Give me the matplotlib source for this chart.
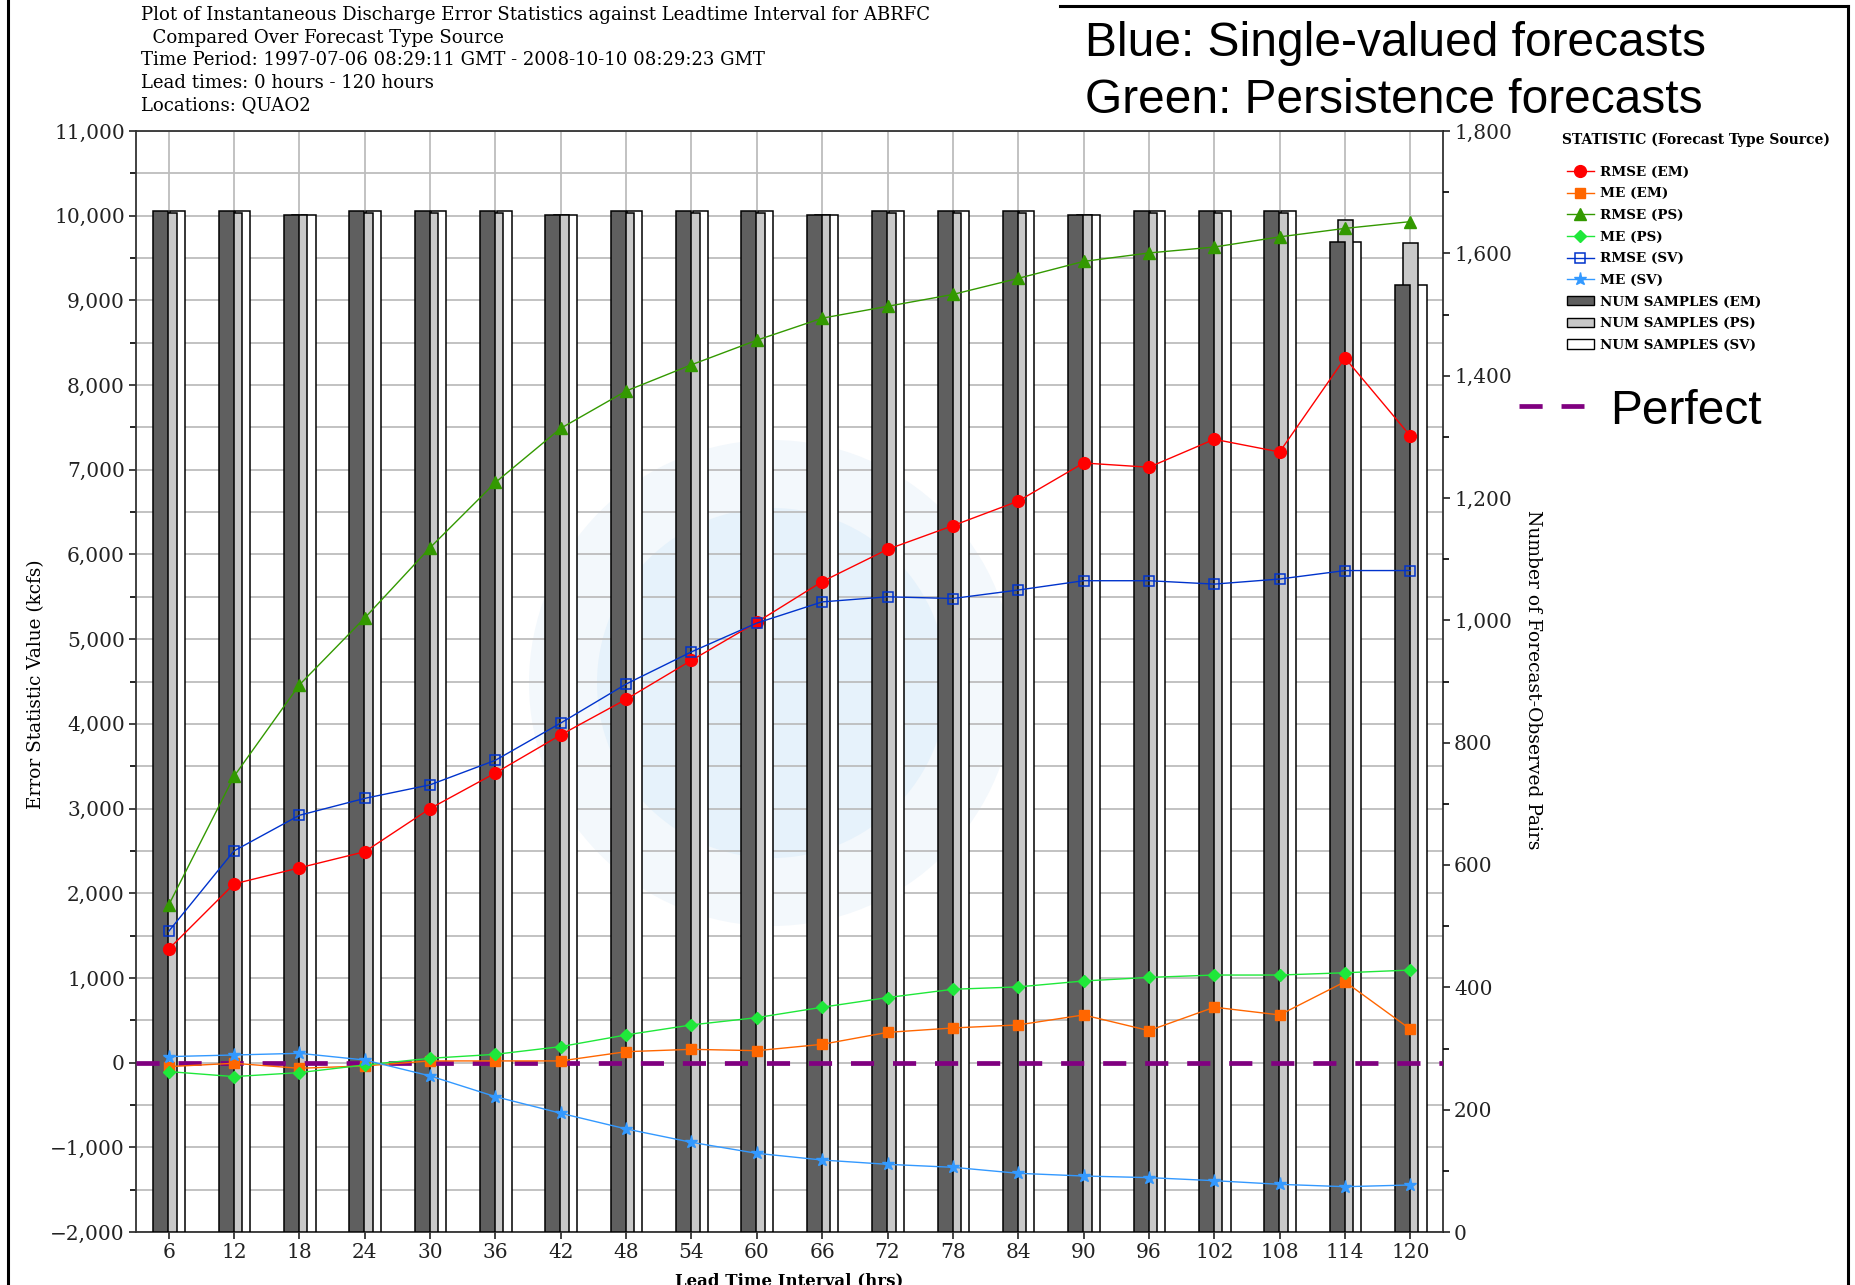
import matplotlib
matplotlib.use('Agg')
import matplotlib.pyplot as plt
from matplotlib.lines import Line2D
from matplotlib.patches import Patch, Circle
from matplotlib.ticker import MultipleLocator, FuncFormatter

# lead times (hrs)
lead_hours = [6, 12, 18, 24, 30, 36, 42, 48, 54, 60, 66, 72, 78, 84, 90, 96, 102, 108, 114, 120]

# error statistics (kcfs), left axis
rmse_em = [1340, 2110, 2300, 2490, 3000, 3420, 3870, 4290, 4750, 5200,
           5680, 6060, 6340, 6630, 7080, 7030, 7360, 7210, 8320, 7400]
me_em = [-47, -8, -67, -39, 20, 20, 20, 129, 157, 141,
         216, 357, 409, 445, 563, 378, 654, 563, 955, 395]
rmse_ps = [1860, 3380, 4460, 5250, 6080, 6850, 7490, 7930, 8240, 8530,
           8790, 8930, 9070, 9260, 9460, 9560, 9630, 9750, 9850, 9930]
me_ps = [-106, -165, -118, -28, 51, 98, 189, 327, 445, 531,
         654, 768, 866, 894, 964, 1006, 1034, 1034, 1061, 1093]
rmse_sv = [1550, 2500, 2920, 3120, 3280, 3570, 4010, 4470, 4850, 5190,
           5440, 5500, 5480, 5580, 5690, 5690, 5650, 5710, 5810, 5810]
me_sv = [71, 90, 110, 31, -157, -402, -598, -783, -941, -1071,
         -1150, -1201, -1236, -1307, -1339, -1358, -1394, -1437, -1465, -1445]

# number of forecast-observed pairs, right axis
n_em = [1669, 1669, 1663, 1669, 1669, 1669, 1663, 1669, 1669, 1669,
        1663, 1669, 1669, 1669, 1663, 1669, 1669, 1669, 1619, 1548]
n_ps = [1666, 1666, 1663, 1666, 1666, 1666, 1663, 1666, 1666, 1666,
        1663, 1666, 1666, 1666, 1663, 1666, 1666, 1666, 1654, 1617]
n_sv = [1669, 1669, 1663, 1669, 1669, 1669, 1663, 1669, 1669, 1669,
        1663, 1669, 1669, 1669, 1663, 1669, 1669, 1669, 1619, 1548]

title_lines = [
    "Plot of Instantaneous Discharge Error Statistics against Leadtime Interval for ABRFC",
    "  Compared Over Forecast Type Source",
    "Time Period: 1997-07-06 08:29:11 GMT - 2008-10-10 08:29:23 GMT",
    "Lead times: 0 hours - 120 hours",
    "Locations: QUAO2",
]

plt.rcParams['font.family'] = ['DejaVu Serif']

W, H = 1856, 1285
fig = plt.figure(figsize=(W / 100, H / 100), dpi=100)


def fx(px):
    return px / W


def fy(py):
    return 1 - py / H


ax = fig.add_axes([fx(136), fy(1232), (1443 - 136) / W, (1232 - 131) / H])
ax2 = ax.twinx()
ax3 = ax.twinx()
ax.set_zorder(0)
ax2.set_zorder(1)
ax3.set_zorder(2)

# faint logo watermark behind everything
ax.add_patch(Circle((7.72, 6.02), 2.43, transform=fig.dpi_scale_trans,
                    facecolor='#f3f8fc', edgecolor='none', zorder=-2))
ax.add_patch(Circle((7.72, 6.02), 1.75, transform=fig.dpi_scale_trans,
                    facecolor='#e6f2fb', edgecolor='none', zorder=-1))

ax.set_xlim(3, 123)
ax.set_ylim(-2000, 11000)
ax.set_xticks(lead_hours)
ax.yaxis.set_major_locator(MultipleLocator(1000))
ax.yaxis.set_minor_locator(MultipleLocator(500))
ax.yaxis.set_major_formatter(FuncFormatter(lambda v, p: f"{int(v):,}".replace('-', '\u2212')))
ax.grid(True, which='both', color='#bdbdbd', lw=1.3)
ax.set_axisbelow(True)
ax.tick_params(labelsize=14.5, length=5, width=1.2, pad=3, colors='#222222')
ax.tick_params(which='minor', length=4, width=1.2)
for s in ax.spines.values():
    s.set_color('#333333')
    s.set_linewidth(1.3)

# sample-count bars
bw = 1.38
ax2.bar([x + 0.8 for x in lead_hours], n_sv, width=bw, color='white',
        edgecolor='black', lw=1.1, zorder=1)
ax2.bar([x + 0.05 for x in lead_hours], n_ps, width=bw, color='#c8c8c8',
        edgecolor='black', lw=1.1, zorder=2)
ax2.bar([x - 0.72 for x in lead_hours], n_em, width=bw, color='#5f5f5f',
        edgecolor='black', lw=1.1, zorder=3)
ax2.set_ylim(0, 1800)
ax2.yaxis.set_major_locator(MultipleLocator(200))
ax2.yaxis.set_minor_locator(MultipleLocator(100))
ax2.yaxis.set_major_formatter(FuncFormatter(lambda v, p: f"{int(v):,}"))
ax2.tick_params(labelsize=14.5, length=5, width=1.2, pad=3, colors='#222222')
ax2.tick_params(which='minor', length=4, width=1.2)
for s in ax2.spines.values():
    s.set_visible(False)

# error statistic lines
ax3.set_ylim(-2000, 11000)
ax3.yaxis.set_visible(False)
for s in ax3.spines.values():
    s.set_visible(False)
ax3.axhline(0, color='#800080', lw=3.4, ls=(0, (4.9, 4.0)), zorder=2)

h_rmse_em, = ax3.plot(lead_hours, rmse_em, color='#ff0000', lw=1.0, marker='o', ms=8.5, zorder=5)
h_me_em, = ax3.plot(lead_hours, me_em, color='#ff6600', lw=1.0, marker='s', ms=7, zorder=5)
h_rmse_ps, = ax3.plot(lead_hours, rmse_ps, color='#339900', lw=1.0, marker='^', ms=8.5, zorder=5)
h_me_ps, = ax3.plot(lead_hours, me_ps, color='#1fe83a', lw=1.0, marker='D', ms=6, zorder=5)
h_rmse_sv, = ax3.plot(lead_hours, rmse_sv, color='#0033cc', lw=1.0, marker='s', ms=7,
                      mfc='none', mew=1.1, zorder=5)
h_me_sv, = ax3.plot(lead_hours, me_sv, color='#3399ff', lw=1.0, marker='*', ms=9.5, zorder=5)

handles = [h_rmse_em, h_me_em, h_rmse_ps, h_me_ps, h_rmse_sv, h_me_sv,
           Patch(facecolor='#5f5f5f', edgecolor='black'),
           Patch(facecolor='#c8c8c8', edgecolor='black'),
           Patch(facecolor='white', edgecolor='black')]
labels = ['RMSE (EM)', 'ME (EM)', 'RMSE (PS)', 'ME (PS)', 'RMSE (SV)', 'ME (SV)',
          'NUM SAMPLES (EM)', 'NUM SAMPLES (PS)', 'NUM SAMPLES (SV)']
fig.text(fx(1562), fy(140), 'STATISTIC (Forecast Type Source)', fontsize=10,
         fontweight='bold', ha='left', va='center')
fig.legend(handles, labels, loc='upper left', bbox_to_anchor=(fx(1560), fy(159)),
           frameon=False, prop={'weight': 'bold', 'size': 9.7},
           handlelength=2.0, handletextpad=0.5, labelspacing=0.64, borderpad=0.0)

# title block
title_y = [20, 43, 65, 88, 110]
for txt, yb in zip(title_lines, title_y):
    fig.text(fx(141), fy(yb), txt, fontsize=13.1, va='baseline', ha='left')

# axis labels
fig.text(fx(36), fy(684), 'Error Statistic Value (kcfs)', rotation=90,
         ha='center', va='center', fontsize=13.3)
fig.text(fx(1533), fy(680), 'Number of Forecast-Observed Pairs', rotation=-90,
         ha='center', va='center', fontsize=13.5)
fig.text(fx(789), fy(1272), 'Lead Time Interval (hrs)', ha='center', va='top',
         fontsize=12, fontweight='bold')

# annotations added on the slide
fig.text(fx(1085), fy(56), 'Blue: Single-valued forecasts', family='Liberation Sans',
         fontsize=34.5, va='baseline', ha='left')
fig.text(fx(1085), fy(113), 'Green: Persistence forecasts', family='Liberation Sans',
         fontsize=34.5, va='baseline', ha='left')
fig.add_artist(Line2D([fx(1519), fx(1584)], [fy(406), fy(406)], color='#800080',
                      lw=3.4, ls=(0, (4.9, 4.0))))
fig.text(fx(1610), fy(424), 'Perfect', family='Liberation Sans', fontsize=34.5,
         va='baseline', ha='left')

# slide frame
fig.add_artist(Line2D([fx(8), fx(8)], [0, 1], color='black', lw=2.2))
fig.add_artist(Line2D([fx(1848), fx(1848)], [0, fy(6)], color='black', lw=2.2))
fig.add_artist(Line2D([fx(1060), fx(1848)], [fy(6), fy(6)], color='black', lw=2.2))

fig.savefig('out.png', dpi=100)
